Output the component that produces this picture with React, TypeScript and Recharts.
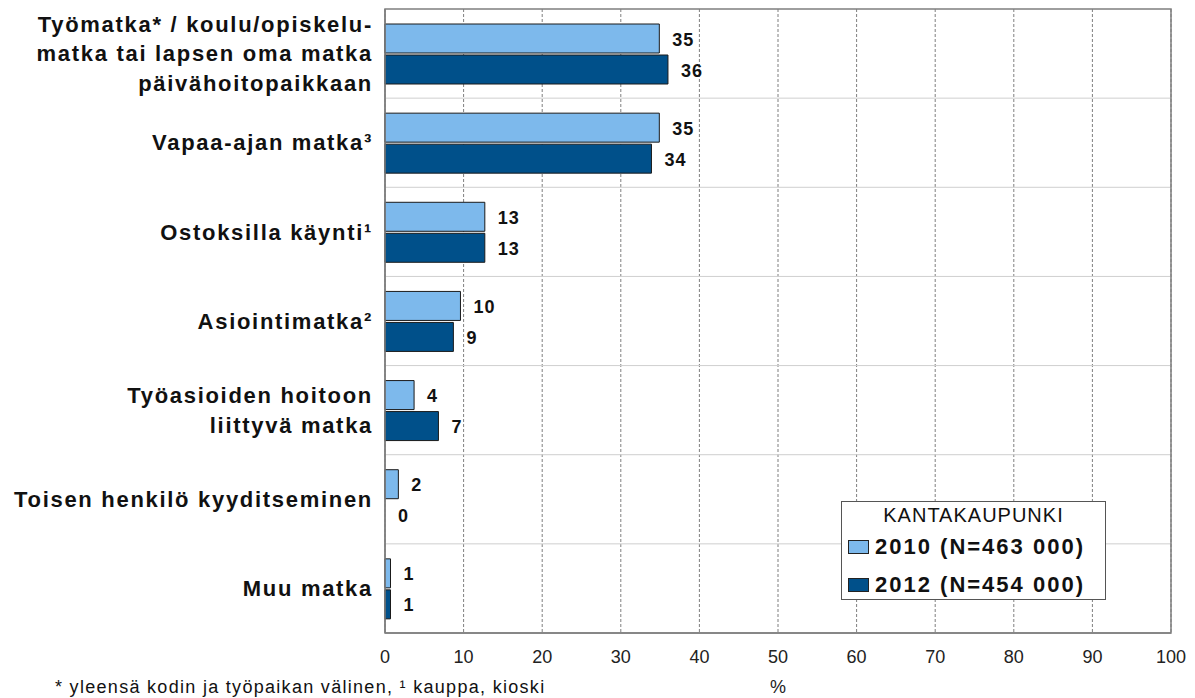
import {
  BarChart, Bar, Cell, XAxis, YAxis, CartesianGrid, LabelList, Legend, ReferenceArea,
} from 'recharts'

const CATEGORIES = [
  'Työmatka* / koulu/opiskelu-\nmatka tai lapsen oma matka\npäivähoitopaikkaan',
  'Vapaa-ajan matka³',
  'Ostoksilla käynti¹',
  'Asiointimatka²',
  'Työasioiden hoitoon\nliittyvä matka',
  'Toisen henkilö kyyditseminen',
  'Muu matka',
]

const VALUES_2010 = [34.9, 34.9, 12.7, 9.6, 3.7, 1.7, 0.7]
const VALUES_2012 = [36.0, 33.9, 12.7, 8.7, 6.8, 0, 0.7]

const X_TICKS = [0, 10, 20, 30, 40, 50, 60, 70, 80, 90, 100]

const SERIES_NAMES = ['2010 (N=463 000)', '2012 (N=454 000)']
const LEGEND_TITLE = 'KANTAKAUPUNKI'
const FOOTNOTE = '* yleensä kodin ja työpaikan välinen, ¹ kauppa, kioski'
const X_UNIT = '%'

const LIGHT = '#7DB9EC'
const DARK = '#00508A'
const BAR_STROKE = '#1a1a1a'
const FONT = '"Liberation Sans", Arial, sans-serif'

const data = CATEGORIES.map((name, i) => ({
  name,
  y2010: VALUES_2010[i],
  y2012: VALUES_2012[i],
}))

function CategoryTick({ x, y, payload }: any) {
  const lines = String(payload.value).split('\n')
  const lh = 29.5
  return (
    <text
      x={x}
      y={y}
      textAnchor="end"
      fill="#111"
      fontFamily={FONT}
      fontSize={22}
      fontWeight="bold"
      style={{ letterSpacing: 1.7 }}
    >
      {lines.map((line, i) => (
        <tspan key={i} x={x} y={y + (i - (lines.length - 1) / 2) * lh + 7.7}>
          {line}
        </tspan>
      ))}
    </text>
  )
}

// value label drawn to the right of each bar
function ValueLabel(props: any) {
  const vb = props.viewBox || props
  const { value } = props
  if (value == null || vb == null) return null
  const w = Number(value) === 0 ? 0 : Math.max(vb.width, 0)
  return (
    <text
      x={vb.x + w + 13}
      y={vb.y + vb.height / 2 + 7}
      fill="#111"
      fontFamily={FONT}
      fontSize={18}
      fontWeight="bold"
      style={{ letterSpacing: 1 }}
    >
      {Math.round(Number(value))}
    </text>
  )
}

function LegendBox({ payload }: any) {
  const items = (payload || []).filter((p: any) => p.type !== 'none')
  return (
    <div
      style={{
        position: 'relative',
        width: 265,
        height: 99,
        boxSizing: 'border-box',
        border: '1px solid #555',
        background: '#fff',
        fontFamily: FONT,
        color: '#111',
      }}
    >
      <div
        style={{
          position: 'absolute', left: 0, right: 0, top: 2, textAlign: 'center',
          fontSize: 20, lineHeight: '22px', letterSpacing: 1,
        }}
      >
        {LEGEND_TITLE}
      </div>
      {items.map((p: any, i: number) => (
        <div
          key={p.value}
          style={{
            position: 'absolute', left: 6, top: 30 + i * 38, height: 30,
            display: 'flex', alignItems: 'center',
          }}
        >
          <span
            style={{
              display: 'inline-block', width: 21, height: 14, boxSizing: 'border-box',
              background: p.color, border: '1px solid #222', marginRight: 6,
            }}
          />
          <span style={{ fontSize: 22, fontWeight: 'bold', letterSpacing: 2, lineHeight: '30px' }}>
            {p.value}
          </span>
        </div>
      ))}
    </div>
  )
}

export default function App() {
  const n = CATEGORIES.length
  return (
    <div style={{ position: 'absolute', left: 0, top: 0, width: 1195, height: 698, background: '#fff' }}>
      <BarChart
        width={1195}
        height={698}
        data={data}
        layout="vertical"
        margin={{ top: 9, right: 24, bottom: 25, left: 0 }}
        barSize={29}
        barGap={2}
      >
        <CartesianGrid
          horizontal={false}
          stroke="#7f7f7f"
          strokeDasharray="3 2"
        />
        <CartesianGrid
          vertical={false}
          stroke="#cfcfcf"
          horizontalCoordinatesGenerator={({ offset }: any) =>
            CATEGORIES.slice(1).map((_, i) => offset.top + ((i + 1) * offset.height) / n)
          }
        />
        <XAxis
          type="number"
          domain={[0, 100]}
          ticks={X_TICKS}
          interval={0}
          height={40}
          tickLine={false}
          tickSize={0}
          tickMargin={17}
          axisLine={{ stroke: '#7f7f7f', strokeWidth: 1.5 }}
          tick={{ fill: '#222', fontSize: 18, fontFamily: FONT }}
        />
        <YAxis
          type="category"
          dataKey="name"
          width={385}
          tickLine={false}
          tickSize={0}
          tickMargin={12}
          interval={0}
          axisLine={{ stroke: '#7f7f7f', strokeWidth: 1.5 }}
          tick={<CategoryTick />}
        />
        <ReferenceArea x1={0} x2={100} fill="none" fillOpacity={0} stroke="#7f7f7f" strokeWidth={1.5} />
        <Legend
          layout="vertical"
          align="center"
          verticalAlign="middle"
          content={<LegendBox />}
          wrapperStyle={{ left: 841, top: 501, width: 265, height: 99 }}
        />
        <Bar
          dataKey="y2010"
          name={SERIES_NAMES[0]}
          fill={LIGHT}
          stroke={BAR_STROKE}
          strokeWidth={1}
          minPointSize={0.1}
          isAnimationActive={false}
        >
          {VALUES_2010.map((v, i) => (
            <Cell key={i} fill={LIGHT} stroke={v === 0 ? 'none' : BAR_STROKE} />
          ))}
          <LabelList dataKey="y2010" content={ValueLabel} />
        </Bar>
        <Bar
          dataKey="y2012"
          name={SERIES_NAMES[1]}
          fill={DARK}
          stroke={BAR_STROKE}
          strokeWidth={1}
          minPointSize={0.1}
          isAnimationActive={false}
        >
          {VALUES_2012.map((v, i) => (
            <Cell key={i} fill={v === 0 ? 'none' : DARK} stroke={v === 0 ? 'none' : BAR_STROKE} />
          ))}
          <LabelList dataKey="y2012" content={ValueLabel} />
        </Bar>
      </BarChart>
      <svg
        width={1195}
        height={698}
        style={{ position: 'absolute', left: 0, top: 0, pointerEvents: 'none' }}
      >
        <text x={55} y={693} fontFamily={FONT} fontSize={18} fill="#111" style={{ letterSpacing: 1.3 }}>
          {FOOTNOTE}
        </text>
        <text x={778} y={693} textAnchor="middle" fontFamily={FONT} fontSize={18} fill="#222">
          {X_UNIT}
        </text>
      </svg>
    </div>
  )
}
